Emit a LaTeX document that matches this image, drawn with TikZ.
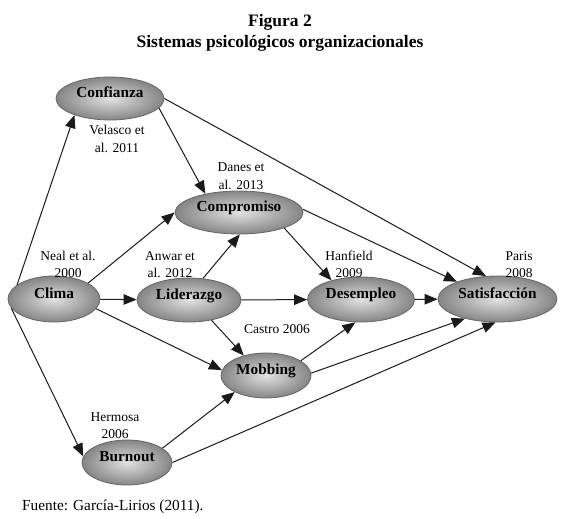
\documentclass[tikz,border=0pt]{standalone}
\usepackage{fontspec}
\setmainfont{Liberation Serif}
\usetikzlibrary{shapes.geometric, arrows.meta}
\definecolor{nodeborder}{HTML}{666666}
\definecolor{nodeinner}{HTML}{e2e2e2}
\definecolor{nodeouter}{HTML}{858585}
\definecolor{linkcolor}{HTML}{1a1a1a}
\tikzset{
    concepto/.style 2 args={
        ellipse, draw=nodeborder, line width=0.8pt,
        inner color=nodeinner, outer color=nodeouter,
        inner sep=0pt, minimum width=#1, minimum height=#2,
        text height=10pt, text depth=12pt,
        font=\fontsize{15.3}{18}\selectfont\bfseries,
    },
    cita/.style={
        align=center, inner sep=0pt,
        font=\fontsize{13.5}{17.5}\selectfont,
    },
    flecha/.style={
        -{Triangle[length=13pt, width=10.5pt]}, line width=1pt, color=linkcolor,
    },
}

\begin{document}
\begin{tikzpicture}[x=1pt, y=-1pt]
\useasboundingbox (0,0) rectangle (562,519);

% ── Title ────────────────────────────────────────────────────
\node[align=center, inner sep=0pt, font=\fontsize{17.5}{21}\selectfont\bfseries] (titulo) at (280,33)
    {Figura 2\\Sistemas psicológicos organizacionales};

% ── Concepts ─────────────────────────────────────────────────
\node[concepto={108pt}{43pt}] (confianza)    at (110,98.5)  {Confianza};
\node[concepto={128pt}{43pt}] (compromiso)   at (239,212.5) {Compromiso};
\node[concepto={92pt}{46pt}]  (clima)        at (54,299)    {Clima};
\node[concepto={104pt}{44pt}] (liderazgo)    at (189,300)   {Liderazgo};
\node[concepto={107pt}{45pt}] (desempleo)    at (361,299.5) {Desempleo};
\node[concepto={119pt}{46pt}] (satisfaccion) at (497.5,299) {Satisfacción};
\node[concepto={90pt}{45pt}]  (mobbing)      at (266,375.5) {Mobbing};
\node[concepto={90pt}{45pt}]  (burnout)      at (127,462.5) {Burnout};

% ── Citations ────────────────────────────────────────────────
\node[cita] (velasco)  at (117,139)   {Velasco et\\al. 2011};
\node[cita] (danes)    at (241,176)   {Danes et\\al. 2013};
\node[cita] (neal)     at (68,264.5)  {Neal et al.\\2000};
\node[cita] (anwar)    at (170,264.5) {Anwar et\\al. 2012};
\node[cita] (hanfield) at (349,264.5) {Hanfield\\2009};
\node[cita] (paris)    at (519,264.5) {Paris\\2008};
\node[cita] (castro)   at (277,329)   {Castro 2006};
\node[cita] (hermosa)  at (115,425.5) {Hermosa\\2006};

% ── Source ───────────────────────────────────────────────────
\node[anchor=west, inner sep=0pt, font=\fontsize{15.3}{18}\selectfont] (fuente) at (22,507)
    {Fuente: García-Lirios (2011).};

% ── Links from Clima ─────────────────────────────────────────
\draw[flecha] (clima.159) -- (confianza.205);
\draw[flecha] (clima.192) -- (burnout.172);
\draw[flecha] (clima.25)  -- (compromiso.180);
\draw[flecha] (clima)     -- (liderazgo);
\draw[flecha] (clima.-13) -- (mobbing.173);

% ── Links from Confianza and Compromiso ──────────────────────
\draw[flecha] (confianza.-11) -- (compromiso.151);
\draw[flecha] (confianza.east) -- (satisfaccion.117);
\draw[flecha] (compromiso.3)   -- (satisfaccion.157);
\draw[flecha] (compromiso.-19) -- (desempleo.147);

% ── Links from Liderazgo ─────────────────────────────────────
\draw[flecha] (liderazgo.57)  -- (compromiso.-88);
\draw[flecha] (liderazgo)     -- (desempleo);
\draw[flecha] (liderazgo.-42) -- (mobbing.138);

% ── Links towards Satisfaccion ───────────────────────────────
\draw[flecha] (desempleo)    -- (satisfaccion);
\draw[flecha] (mobbing.23)   -- (desempleo.-104);
\draw[flecha] (mobbing.3)    -- (satisfaccion.211);
\draw[flecha] (burnout.22)   -- (mobbing.208);
\draw[flecha] (burnout.east) -- (satisfaccion.-95);

\end{tikzpicture}
\end{document}
